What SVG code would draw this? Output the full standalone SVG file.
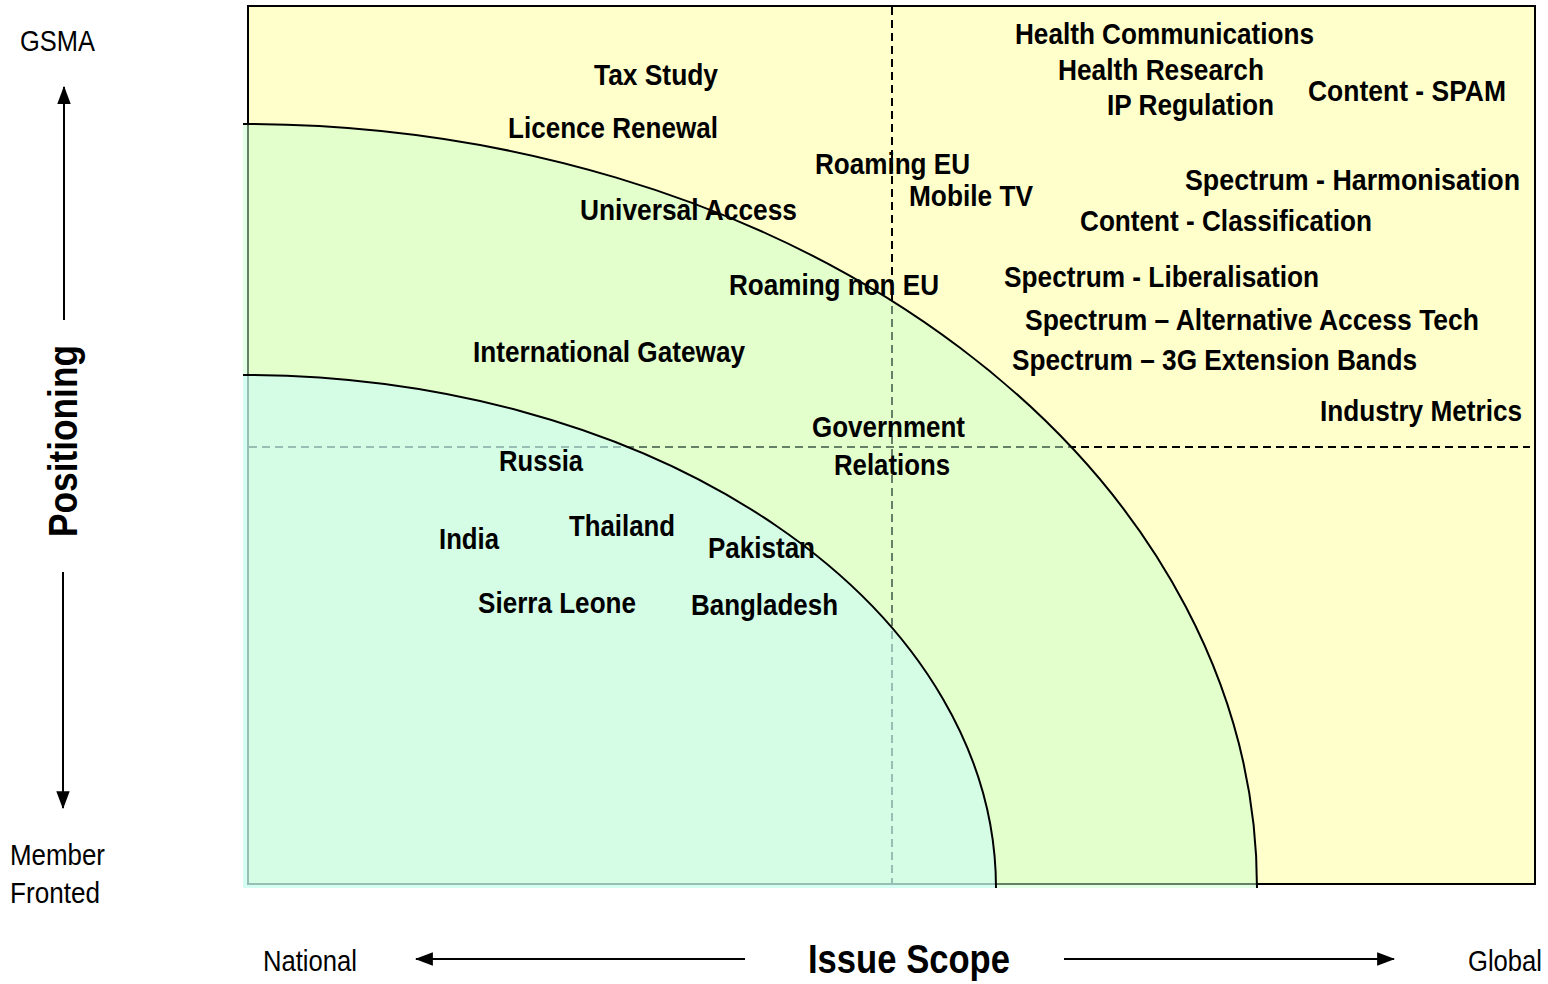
<svg xmlns="http://www.w3.org/2000/svg" width="1548" height="984" viewBox="0 0 1548 984">
<defs>
<style>
.t{font-family:"Liberation Sans Narrow","Arial Narrow","Liberation Sans",Arial,sans-serif;font-weight:bold;font-size:30px;fill:#000}
.r{font-family:"Liberation Sans Narrow","Arial Narrow","Liberation Sans",Arial,sans-serif;font-size:30px;fill:#000}
.dash{stroke:#000;stroke-width:2;stroke-dasharray:8 5;fill:none}
.arc{fill:none;stroke:#000;stroke-width:2}
.ax{stroke:#000;stroke-width:2;fill:none}
</style>
<marker id="ahb" viewBox="0 0 16 16" markerWidth="18" markerHeight="18" refX="15" refY="8" orient="auto" markerUnits="userSpaceOnUse">
<path d="M0,2 L16,8 L0,14 Z" fill="#000"/>
</marker>
</defs>
<rect width="1548" height="984" fill="#fff"/>
<g id="background">
<rect x="248" y="6" width="1287" height="878" fill="#ffffcc" stroke="#000" stroke-width="2"/>
<line class="dash" x1="892" y1="7" x2="892" y2="884"/>
<line class="dash" x1="249" y1="447" x2="1530" y2="447"/>
</g>
<g id="zone-outer">
<path d="M243,888 L243,124 A1014,764 0 0 1 1257,888 Z" fill="#c8ffcc" fill-opacity="0.5"/>
<path class="arc" d="M243,124 A1014,764 0 0 1 1257,888"/>
</g>
<g id="zone-inner">
<path d="M243,888 L243,375 A753,513 0 0 1 996,888 Z" fill="#c8fcff" fill-opacity="0.5"/>
<path class="arc" d="M243,375 A753,513 0 0 1 996,888"/>
</g>
<g id="labels">
<g id="n-health-comm"><text class="t" x="1015" y="44" textLength="299" lengthAdjust="spacingAndGlyphs">Health Communications</text></g>
<g id="n-health-research"><text class="t" x="1058" y="80" textLength="206" lengthAdjust="spacingAndGlyphs">Health Research</text></g>
<g id="n-ip"><text class="t" x="1107" y="115" textLength="167" lengthAdjust="spacingAndGlyphs">IP Regulation</text></g>
<g id="n-spam"><text class="t" x="1308" y="101" textLength="198" lengthAdjust="spacingAndGlyphs">Content - SPAM</text></g>
<g id="n-tax"><text class="t" x="594" y="85" textLength="124" lengthAdjust="spacingAndGlyphs">Tax Study</text></g>
<g id="n-licence"><text class="t" x="508" y="138" textLength="210" lengthAdjust="spacingAndGlyphs">Licence Renewal</text></g>
<g id="n-roam-eu"><text class="t" x="815" y="174" textLength="155" lengthAdjust="spacingAndGlyphs">Roaming EU</text></g>
<g id="n-mobile-tv"><text class="t" x="909" y="206" textLength="124" lengthAdjust="spacingAndGlyphs">Mobile TV</text></g>
<g id="n-universal"><text class="t" x="580" y="220" textLength="217" lengthAdjust="spacingAndGlyphs">Universal Access</text></g>
<g id="n-harmonisation"><text class="t" x="1185" y="190" textLength="335" lengthAdjust="spacingAndGlyphs">Spectrum  - Harmonisation</text></g>
<g id="n-classification"><text class="t" x="1080" y="231" textLength="292" lengthAdjust="spacingAndGlyphs">Content - Classification</text></g>
<g id="n-roam-non-eu"><text class="t" x="729" y="295" textLength="210" lengthAdjust="spacingAndGlyphs">Roaming non EU</text></g>
<g id="n-liberalisation"><text class="t" x="1004" y="287" textLength="315" lengthAdjust="spacingAndGlyphs">Spectrum - Liberalisation</text></g>
<g id="n-alt-access"><text class="t" x="1025" y="330" textLength="454" lengthAdjust="spacingAndGlyphs">Spectrum – Alternative Access Tech</text></g>
<g id="n-3g-ext"><text class="t" x="1012" y="370" textLength="405" lengthAdjust="spacingAndGlyphs">Spectrum – 3G Extension Bands</text></g>
<g id="n-intl-gateway"><text class="t" x="473" y="362" textLength="272" lengthAdjust="spacingAndGlyphs">International Gateway</text></g>
<g id="n-industry-metrics"><text class="t" x="1320" y="421" textLength="202" lengthAdjust="spacingAndGlyphs">Industry Metrics</text></g>
<g id="n-gov-rel"><text class="t" x="812" y="437" textLength="153" lengthAdjust="spacingAndGlyphs">Government</text><text class="t" x="834" y="475" textLength="116" lengthAdjust="spacingAndGlyphs">Relations</text></g>
<g id="n-russia"><text class="t" x="499" y="471" textLength="84" lengthAdjust="spacingAndGlyphs">Russia</text></g>
<g id="n-india"><text class="t" x="439" y="549" textLength="60" lengthAdjust="spacingAndGlyphs">India</text></g>
<g id="n-thailand"><text class="t" x="569" y="536" textLength="106" lengthAdjust="spacingAndGlyphs">Thailand</text></g>
<g id="n-pakistan"><text class="t" x="708" y="558" textLength="107" lengthAdjust="spacingAndGlyphs">Pakistan</text></g>
<g id="n-sierra"><text class="t" x="478" y="613" textLength="158" lengthAdjust="spacingAndGlyphs">Sierra Leone</text></g>
<g id="n-bangladesh"><text class="t" x="691" y="615" textLength="147" lengthAdjust="spacingAndGlyphs">Bangladesh</text></g>
</g>
<g id="axes">
<g id="y-axis">
<text class="r" x="20" y="51" textLength="75" lengthAdjust="spacingAndGlyphs">GSMA</text>
<text class="r" x="10" y="865" textLength="95" lengthAdjust="spacingAndGlyphs">Member</text>
<text class="r" x="10" y="903" textLength="90" lengthAdjust="spacingAndGlyphs">Fronted</text>
<text class="t" style="font-size:40px" transform="translate(77,537) rotate(-90)" textLength="192" lengthAdjust="spacingAndGlyphs">Positioning</text>
</g>
<g id="x-axis">
<text class="r" x="263" y="971" textLength="94" lengthAdjust="spacingAndGlyphs">National</text>
<text class="t" style="font-size:40px" x="808" y="973" textLength="202" lengthAdjust="spacingAndGlyphs">Issue Scope</text>
<text class="r" x="1468" y="971" textLength="74" lengthAdjust="spacingAndGlyphs">Global</text>
</g>
</g>
<g id="connectors">
<line class="ax" x1="64" y1="320" x2="64" y2="87" marker-end="url(#ahb)"/>
<line class="ax" x1="63" y1="572" x2="63" y2="808" marker-end="url(#ahb)"/>
<line class="ax" x1="745" y1="959" x2="416" y2="959" marker-end="url(#ahb)"/>
<line class="ax" x1="1064" y1="959" x2="1394" y2="959" marker-end="url(#ahb)"/>
</g>
</svg>
